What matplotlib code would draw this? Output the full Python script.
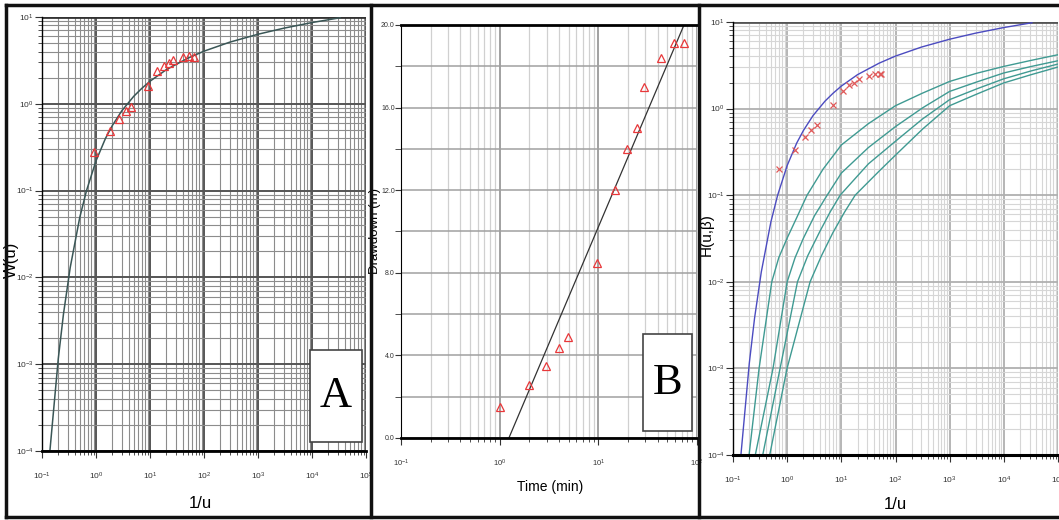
import matplotlib
matplotlib.use('Agg')
import matplotlib.pyplot as plt
import matplotlib.ticker as mticker
from matplotlib.lines import Line2D
from matplotlib.patches import Rectangle

plt.rcParams['font.family'] = ['Liberation Sans Narrow', 'Liberation Sans', 'DejaVu Sans']

theis_x = [0.14, 0.2, 0.25, 0.333, 0.5, 0.667, 1, 1.5, 2, 3, 5, 7, 10, 20, 50, 100, 300, 1000, 3000, 1e4, 3.3e4]
theis_w = [1e-4, 1.15e-3, 3.8e-3, 1.3e-2, 4.9e-2, 0.1, 0.22, 0.40, 0.56, 0.83, 1.22, 1.50, 1.82, 2.47, 3.35, 4.04, 5.13, 6.33, 7.43, 8.63, 9.8]

# panel A field data
obs_a_x = [0.91, 1.84, 2.7, 3.6, 4.5, 9.1, 13.5, 17.9, 22.3, 26.7, 40, 53, 66]
obs_a_w = [0.28, 0.49, 0.67, 0.83, 0.93, 1.6, 2.38, 2.69, 2.94, 3.2, 3.5, 3.6, 3.5]

# panel B: drawdown vs time and straight-line fit
time_min = [1.0, 1.98, 2.96, 3.96, 4.92, 9.8, 14.7, 19.7, 24.5, 29.2, 43.6, 58.6, 73]
drawdown = [1.5, 2.56, 3.48, 4.34, 4.87, 8.47, 12.0, 14.0, 15.0, 17.0, 18.4, 19.15, 19.15]
fit_t = [1.24, 73.8]
fit_s = [0.0, 20.0]

# panel C field data
obs_c_x = [0.70, 1.42, 2.11, 2.8, 3.57, 6.97, 10.7, 14.1, 17.5, 21.6, 32.2, 42.7, 50.7, 55]
obs_c_h = [0.20, 0.335, 0.47, 0.56, 0.64, 1.11, 1.58, 1.85, 1.98, 2.2, 2.4, 2.53, 2.53, 2.53]

# Hantush H(u,beta) curves
h1_x = [0.198, 0.303, 0.52, 0.7, 1.0, 1.5, 2.33, 4.6, 10, 31.6, 100, 316, 1000, 3162, 1e4, 3.16e4, 1e5]
h1_y = [1e-4, 1e-3, 1e-2, 0.019, 0.032, 0.055, 0.1, 0.2, 0.38, 0.67, 1.08, 1.51, 2.06, 2.56, 3.07, 3.6, 4.19]
h2_x = [0.258, 0.548, 1.0, 1.4, 2.0, 3.2, 5.47, 10, 31.6, 100, 316, 1000, 3162, 1e4, 3.16e4, 1e5]
h2_y = [1e-4, 1e-3, 1e-2, 0.019, 0.032, 0.058, 0.1, 0.18, 0.355, 0.62, 1.02, 1.58, 2.03, 2.58, 3.06, 3.57]
h3_x = [0.354, 0.74, 1.55, 2.4, 4.0, 6.3, 9.5, 31.6, 100, 316, 1000, 3162, 1e4, 3.16e4, 1e5]
h3_y = [1e-4, 1e-3, 1e-2, 0.02, 0.038, 0.065, 0.1, 0.23, 0.42, 0.76, 1.27, 1.69, 2.21, 2.72, 3.27]
h4_x = [0.476, 0.995, 2.65, 4.3, 7.0, 11.5, 18, 50, 100, 316, 1000, 3162, 1e4, 3.16e4, 1e5]
h4_y = [1e-4, 1e-3, 1e-2, 0.02, 0.037, 0.064, 0.1, 0.19, 0.29, 0.58, 1.08, 1.47, 1.98, 2.46, 3.02]

W, H = 1059, 520
fig = plt.figure(figsize=(W / 100, H / 100), dpi=100)


def px_axes(l, r, t, b):
    return fig.add_axes([l / W, 1 - b / H, (r - l) / W, (b - t) / H])


def style_log(ax, major, minor, lw_major, lw_minor):
    ax.set_xscale('log')
    ax.set_yscale('log')
    ax.set_xlim(1e-1, 1e5)
    ax.set_ylim(1e-4, 1e1)
    for axis in (ax.xaxis, ax.yaxis):
        axis.set_major_locator(mticker.LogLocator(base=10, numticks=20))
        axis.set_minor_locator(mticker.LogLocator(base=10, subs=range(2, 10), numticks=20))
    ax.grid(True, which='major', color=major, lw=lw_major)
    ax.grid(True, which='minor', color=minor, lw=lw_minor)
    ax.set_axisbelow(True)
    ax.tick_params(which='both', direction='out', labelsize=6, labelcolor='#333333', color='#333333')
    ax.tick_params(which='major', length=5)
    ax.tick_params(which='minor', length=3)
    ax.tick_params(axis='x', pad=9)
    ax.tick_params(axis='y', pad=1)
    for s in ('top', 'right'):
        ax.spines[s].set_visible(False)
    ax.spines['bottom'].set_linewidth(2)
    ax.spines['left'].set_linewidth(1)


# ---- panel A
axA = px_axes(42, 366, 17, 451)
style_log(axA, '#555555', '#8c8c8c', 1.4, 0.8)
axA.axhline(1e1, color='#333333', lw=2)
axA.plot(theis_x, theis_w, color='#3a5656', lw=1.1)
axA.plot(obs_a_x, obs_a_w, ls='none', marker='^', ms=6, mfc='none', mec='#e8383a', mew=0.9)
axA.set_xlabel('1/u', fontsize=12)
axA.xaxis.set_label_coords(0.49, -0.12)
axA.xaxis.label.set_va('center')
axA.set_ylabel('W(u)', fontsize=12)
axA.yaxis.set_label_coords(-0.095, 0.44)
axA.yaxis.label.set_va('center')

# ---- panel B
axB = px_axes(401, 697, 25, 438)
axB.set_xscale('log')
axB.set_xlim(1e-1, 1e2)
axB.set_ylim(0, 20)
axB.xaxis.set_major_locator(mticker.LogLocator(base=10, numticks=10))
axB.xaxis.set_minor_locator(mticker.LogLocator(base=10, subs=range(2, 10), numticks=10))
axB.yaxis.set_major_locator(mticker.MultipleLocator(4))
axB.yaxis.set_minor_locator(mticker.MultipleLocator(2))
axB.yaxis.set_major_formatter(mticker.FormatStrFormatter('%.1f'))
axB.grid(True, which='major', axis='x', color='#888888', lw=1.1)
axB.grid(True, which='minor', axis='x', color='#d0d0d0', lw=0.9)
axB.grid(True, which='both', axis='y', color='#a0a0a0', lw=1.1)
axB.set_axisbelow(True)
axB.tick_params(which='both', direction='out', labelsize=5.5, labelcolor='#333333', color='#333333')
axB.tick_params(which='major', length=5)
axB.tick_params(which='minor', length=3)
axB.tick_params(axis='x', pad=9)
axB.tick_params(axis='y', which='both', labelsize=5, length=4, pad=0.5)
axB.spines['right'].set_visible(False)
axB.spines['top'].set_linewidth(2)
axB.spines['bottom'].set_linewidth(2)
axB.plot(fit_t, fit_s, color='#333333', lw=0.9)
axB.plot(time_min, drawdown, ls='none', marker='^', ms=5.5, mfc='none', mec='#e8383a', mew=0.9)
axB.set_xlabel('Time (min)', fontsize=10)
axB.xaxis.set_label_coords(0.503, -0.119)
axB.xaxis.label.set_va('center')
axB.set_ylabel('Drawdown (m)', fontsize=9.5)
axB.yaxis.set_label_coords(-0.088, 0.5)
axB.yaxis.label.set_va('center')

# ---- panel C
axC = px_axes(733, 1058, 22, 455)
style_log(axC, '#b0b0b0', '#d6d6d6', 1.3, 0.8)
axC.spines['bottom'].set_linewidth(2.2)
axC.axhline(1e1, color='#555555', lw=2)
for hx, hy in ((h1_x, h1_y), (h2_x, h2_y), (h3_x, h3_y), (h4_x, h4_y)):
    axC.plot(hx, hy, color='#3f9a92', lw=1.0)
axC.plot(theis_x, theis_w, color='#4b4bc0', lw=1.0)
axC.plot(obs_c_x, obs_c_h, ls='none', marker='x', ms=5, mec='#e05a5a', mew=0.9)
axC.set_xlabel('1/u', fontsize=12)
axC.xaxis.set_label_coords(0.5, -0.115)
axC.xaxis.label.set_va('center')
axC.set_ylabel('H(u,\u03b2)', fontsize=11)
axC.yaxis.set_label_coords(-0.082, 0.51)
axC.yaxis.label.set_va('center')

# ---- letter boxes
for l, t, r, b, letter in ((310, 350, 362, 442, 'A'), (643, 334, 692, 431, 'B')):
    fig.add_artist(Rectangle((l / W, 1 - b / H), (r - l) / W, (b - t) / H,
                             transform=fig.transFigure, facecolor='white',
                             edgecolor='#444444', lw=1.2, zorder=5))
    fig.text((l + r) / 2 / W, 1 - (t + b) / 2 / H, letter, ha='center', va='center',
             fontsize=32, family='Liberation Serif', zorder=6)

# ---- outer frame and separators
frame = dict(color='#111111', lw=2.5, transform=fig.transFigure, zorder=10)
fig.add_artist(Line2D([6 / W, 1], [1 - 5 / H, 1 - 5 / H], **frame))
fig.add_artist(Line2D([6 / W, 1], [1 - 517 / H, 1 - 517 / H], **frame))
for x in (6, 371, 699):
    fig.add_artist(Line2D([x / W, x / W], [1 - 517 / H, 1 - 5 / H], **frame))

fig.savefig('out.png', dpi=100)
